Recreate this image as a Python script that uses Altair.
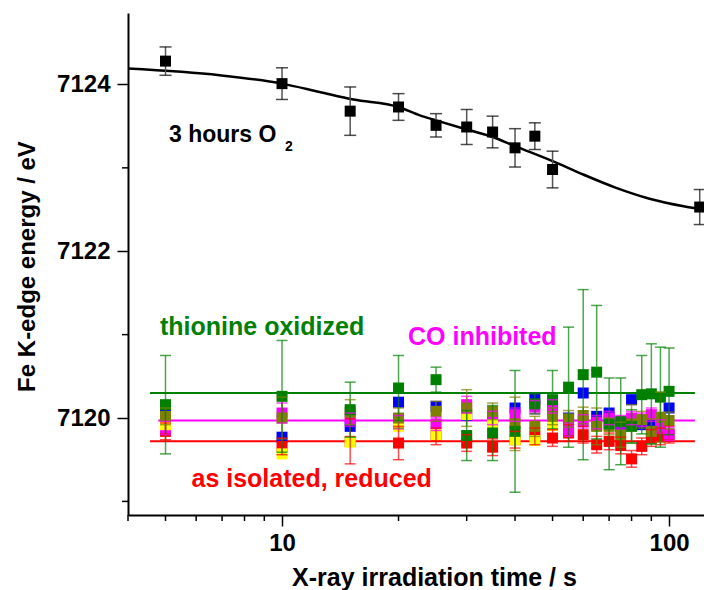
import altair as alt
import pandas as pd

# ---------------- data ----------------
times = [5, 10, 15, 20, 25, 30, 35, 40, 45, 50, 55, 60, 65, 70, 75, 80, 85, 90, 95, 100]

blue_vals = [7120.07, 7119.77, 7119.90, 7120.19, 7120.14, 7120.03, 7120.00, 7120.12, 7120.23, 7120.12,
             7120.00, 7120.30, 7120.02, 7120.06, 7119.90, 7120.22, 7119.92, 7119.96, 7119.98, 7120.12]
red_vals = [7119.84, 7119.66, 7119.72, 7119.70, 7119.78, 7119.70, 7119.65, 7119.74, 7119.78, 7119.76,
            7119.82, 7119.80, 7119.68, 7119.72, 7119.67, 7119.51, 7119.66, 7119.76, 7119.78, 7119.80]
red_err = [0.10, 0.10, 0.27, 0.20, 0.10, 0.10, 0.10, 0.10, 0.10, 0.10,
           0.10, 0.10, 0.10, 0.10, 0.10, 0.10, 0.10, 0.10, 0.10, 0.10]
magenta_vals = [7119.88, 7120.06, 7119.98, 7119.95, 7119.93, 7120.16, 7120.00, 7120.04, 7120.13, 7120.14,
                7119.86, 7119.96, 7119.95, 7120.00, 7119.95, 7120.00, 7119.98, 7120.04, 7119.90, 7119.81]
magenta_err = [0.08, 0.12, 0.08, 0.08, 0.08, 0.10, 0.08, 0.08, 0.08, 0.08,
               0.08, 0.08, 0.08, 0.08, 0.08, 0.08, 0.08, 0.08, 0.08, 0.08]
yellow_times = [5, 10, 15, 20, 25, 30, 35, 40, 45, 50]
yellow_vals = [7119.92, 7119.57, 7119.71, 7119.90, 7119.80, 7120.04, 7119.92, 7119.74, 7119.73, 7119.91]
olive_vals = [7120.02, 7120.00, 7120.07, 7120.00, 7120.08, 7120.12, 7120.08, 7119.93, 7119.90, 7120.02,
              7119.99, 7120.03, 7119.90, 7119.90, 7119.80, 7119.93, 7119.98, 7119.84, 7120.01, 7119.97]
olive_err = [0.10, 0.25, 0.15, 0.12, 0.12, 0.22, 0.10, 0.32, 0.12, 0.10,
             0.10, 0.10, 0.22, 0.10, 0.15, 0.23, 0.10, 0.15, 0.30, 0.10]
green_vals = [7120.16, 7120.26, 7120.10, 7120.36, 7120.46, 7119.79, 7119.82, 7119.84, 7120.17, 7120.22,
              7120.37, 7120.52, 7120.55, 7119.93, 7119.96, 7119.90, 7120.28, 7120.29, 7120.25, 7120.32]
green_err = [0.59, 0.67, 0.33, 0.39, 0.15, 0.30, 0.33, 0.73, 0.12, 0.35,
             0.72, 1.02, 0.80, 0.55, 0.52, 0.20, 0.47, 0.60, 0.60, 0.52]

o2_times = [5, 10, 15, 20, 25, 30, 35, 40, 45, 50, 120]
o2_vals = [7124.28, 7124.01, 7123.68, 7123.73, 7123.51, 7123.49, 7123.43, 7123.24, 7123.38, 7122.98, 7122.53]
o2_err = [0.17, 0.19, 0.29, 0.16, 0.14, 0.21, 0.19, 0.23, 0.16, 0.22, 0.21]

fit_times = [4, 6.9, 10, 12.5, 15.3, 20, 22.7, 25, 30, 35, 40, 50, 60, 73, 89, 109, 123]
fit_vals = [7124.19, 7124.11, 7124.01, 7123.91, 7123.82, 7123.73, 7123.63, 7123.57, 7123.46, 7123.37,
            7123.26, 7123.08, 7122.92, 7122.76, 7122.63, 7122.54, 7122.50]

level_series = ["green", "magenta", "red"]
level_vals = [7120.30, 7119.97, 7119.72]
level_start = [4.56, 4.79, 4.56]
level_end = [116.6, 116.6, 116.6]

label_texts = ["3 hours O", "2", "thionine oxidized", "CO inhibited", "as isolated, reduced"]

x_major = [10, 100]
x_minor = [4, 5, 6, 7, 8, 9, 20, 30, 40, 50, 60, 70, 80, 90]
y_major = [7120, 7122, 7124]
y_minor = [7119, 7121, 7123]

# ---------------- build tables ----------------
series_order = ["blue", "red", "magenta", "yellow", "olive", "green"]
series_colors = ["#0000FF", "#FF0000", "#FF00FF", "#FFFF00", "#808000", "#008000"]

rows = []
def add(name, ts, vs, es=None):
    for i, (t, v) in enumerate(zip(ts, vs)):
        e = es[i] if es is not None else None
        rows.append({"series": name, "t": t, "v": v,
                     "lo": v - e if e is not None else None,
                     "hi": v + e if e is not None else None})

add("blue", times, blue_vals)
add("red", times, red_vals, red_err)
add("magenta", times, magenta_vals, magenta_err)
add("yellow", yellow_times, yellow_vals)
add("olive", times, olive_vals, olive_err)
add("green", times, green_vals, green_err)
pts = pd.DataFrame(rows)
errs = pts.dropna(subset=["lo"]).copy()

o2 = pd.DataFrame({"t": o2_times, "v": o2_vals})
o2["lo"] = [v - e for v, e in zip(o2_vals, o2_err)]
o2["hi"] = [v + e for v, e in zip(o2_vals, o2_err)]
fit = pd.DataFrame({"t": fit_times, "v": fit_vals})
levels = pd.DataFrame({"series": level_series, "v": level_vals, "t0": level_start, "t1": level_end})

W, H = 576, 502
FONT = "Liberation Sans"
xscale = alt.Scale(type="log", domain=[4, 123.1], nice=False)
yscale = alt.Scale(domain=[7118.837, 7124.857], nice=False, zero=False)
cscale = alt.Scale(domain=series_order, range=series_colors)

xaxis = alt.Axis(values=x_major, format="d", grid=False, tickSize=11, tickWidth=1.5,
                 domainWidth=2, domainColor="black", tickColor="black",
                 labelFont=FONT, labelFontSize=24, labelFontWeight="bold", labelColor="black",
                 labelPadding=5, title="X-ray irradiation time / s", titleFont=FONT,
                 titleFontSize=25, titleFontWeight="bold", titleColor="black",
                 titleX=306, titleY=70, titleAlign="center", titleBaseline="alphabetic")
yaxis = alt.Axis(values=y_major, format="d", grid=False, tickSize=11, tickWidth=1.5,
                 domainWidth=2, domainColor="black", tickColor="black",
                 labelFont=FONT, labelFontSize=24, labelFontWeight="bold", labelColor="black",
                 labelPadding=7, title="Fe K-edge energy / eV", titleFont=FONT,
                 titleFontSize=24, titleFontWeight="bold", titleColor="black",
                 titleX=-94, titleY=253, titleAngle=270, titleAlign="center",
                 titleBaseline="alphabetic")

X = alt.X("t:Q", scale=xscale, axis=xaxis)
Y = alt.Y("v:Q", scale=yscale, axis=yaxis)

base_axes = alt.Chart(fit).mark_line(color="black", strokeWidth=2.5, interpolate="monotone").encode(x=X, y=Y)

level_lines = alt.Chart(levels).mark_rule(strokeWidth=2).encode(
    x=alt.X("t0:Q", scale=xscale), x2="t1:Q", y=alt.Y("v:Q", scale=yscale),
    color=alt.Color("series:N", scale=cscale, legend=None))

squares = alt.Chart(pts).mark_point(shape="square", filled=True, size=121, opacity=1).encode(
    x=alt.X("t:Q", scale=xscale), y=alt.Y("v:Q", scale=yscale),
    color=alt.Color("series:N", scale=cscale, legend=None))

err_rules = alt.Chart(errs).mark_rule(strokeWidth=1.5, opacity=0.7).encode(
    x=alt.X("t:Q", scale=xscale), y=alt.Y("lo:Q", scale=yscale), y2="hi:Q",
    color=alt.Color("series:N", scale=cscale, legend=None))
err_lo = alt.Chart(errs).mark_tick(orient="horizontal", size=11, thickness=1.5, opacity=0.7).encode(
    x=alt.X("t:Q", scale=xscale), y=alt.Y("lo:Q", scale=yscale),
    color=alt.Color("series:N", scale=cscale, legend=None))
err_hi = alt.Chart(errs).mark_tick(orient="horizontal", size=11, thickness=1.5, opacity=0.7).encode(
    x=alt.X("t:Q", scale=xscale), y=alt.Y("hi:Q", scale=yscale),
    color=alt.Color("series:N", scale=cscale, legend=None))

o2_rule = alt.Chart(o2).mark_rule(strokeWidth=1.5, color="#555555").encode(
    x=alt.X("t:Q", scale=xscale), y=alt.Y("lo:Q", scale=yscale), y2="hi:Q")
o2_lo = alt.Chart(o2).mark_tick(orient="horizontal", size=12, thickness=1.5, color="black").encode(
    x=alt.X("t:Q", scale=xscale), y=alt.Y("lo:Q", scale=yscale))
o2_hi = alt.Chart(o2).mark_tick(orient="horizontal", size=12, thickness=1.5, color="black").encode(
    x=alt.X("t:Q", scale=xscale), y=alt.Y("hi:Q", scale=yscale))
o2_sq = alt.Chart(o2).mark_point(shape="square", filled=True, size=121, opacity=1, color="black").encode(
    x=alt.X("t:Q", scale=xscale), y=alt.Y("v:Q", scale=yscale))

xminor = alt.Chart(pd.DataFrame({"t": x_minor})).mark_rule(color="black", strokeWidth=1.5).encode(
    x=alt.X("t:Q", scale=xscale), y=alt.value(H), y2=alt.value(H + 6))
yminor = alt.Chart(pd.DataFrame({"v": y_minor})).mark_rule(color="black", strokeWidth=1.5).encode(
    y=alt.Y("v:Q", scale=yscale), x=alt.value(0), x2=alt.value(-6))

def label(idx, color, px, py, size=25):
    return alt.Chart(pd.DataFrame({"label": [label_texts[idx]]})).mark_text(
        font=FONT, fontSize=size, fontWeight="bold", color=color, align="left",
        baseline="alphabetic").encode(text="label:N", x=alt.value(px), y=alt.value(py))

texts = [
    label(0, "black", 41, 128.5, 23),
    label(1, "black", 157, 137.5, 14),
    label(2, "#008000", 32, 322),
    label(3, "#FF00FF", 280, 332),
    label(4, "#FF0000", 63.5, 473.5),
]

chart = alt.layer(
    base_axes, level_lines, squares, err_rules, err_lo, err_hi,
    o2_rule, o2_lo, o2_hi, o2_sq, xminor, yminor, *texts
).properties(
    width=W, height=H,
    autosize=alt.AutoSizeParams(type="none"),
    padding={"left": 128, "top": 13, "right": 0, "bottom": 75},
    background="white",
).configure_view(stroke=None)

chart.save("out.html", embed_options={"renderer": "svg", "actions": False})
